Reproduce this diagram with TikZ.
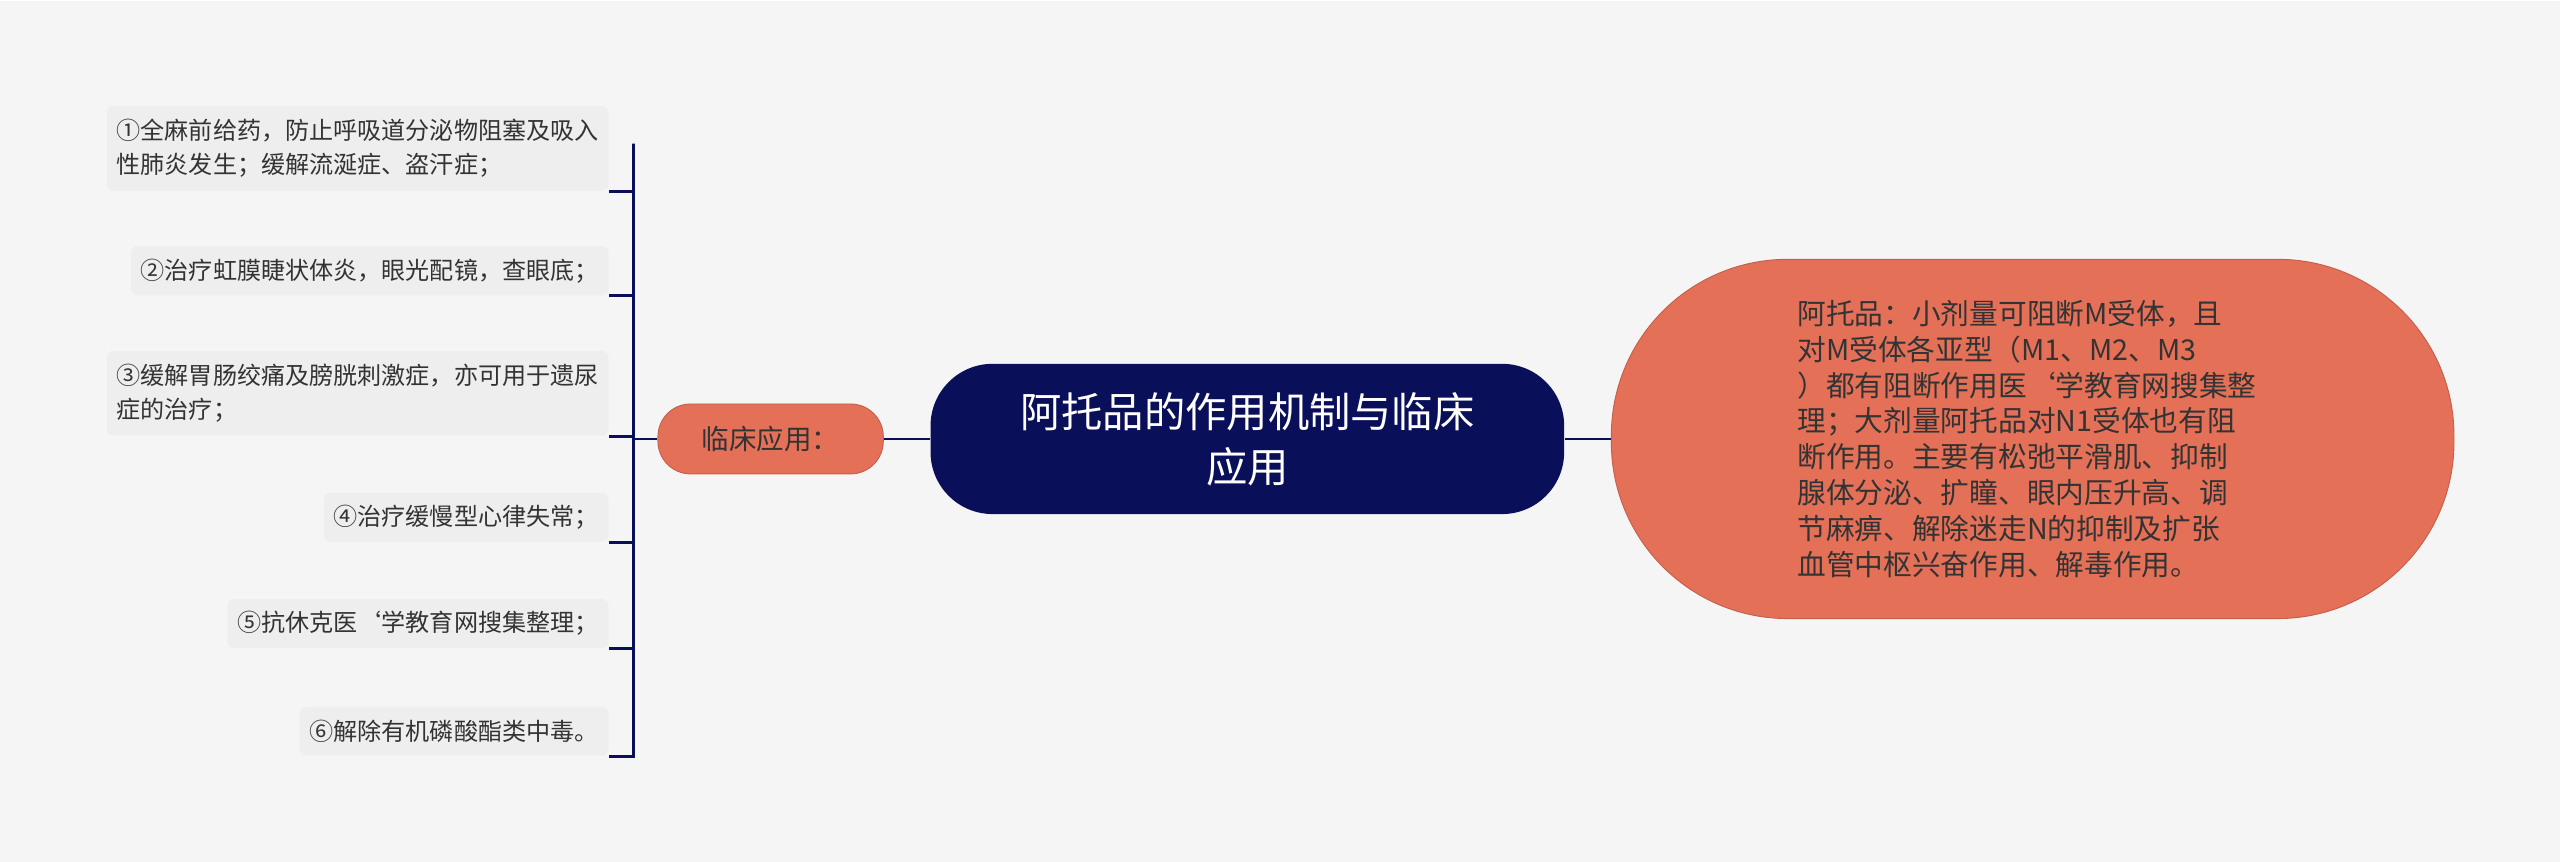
\documentclass[tikz,border=0pt]{standalone}
\usepackage{fontspec}
\setmainfont{Noto Sans CJK SC}
\usetikzlibrary{positioning}
\definecolor{navy}{HTML}{0A0F5A}
\definecolor{salmon}{HTML}{E57058}
\definecolor{leafbg}{HTML}{EEEEEE}
\definecolor{bg}{HTML}{F5F5F5}
\begin{document}
\begin{tikzpicture}[x=0.025cm,y=-0.025cm,
    rootbox/.style={rounded corners=0.95cm,fill=navy,text=white,font=\fontsize{18}{24}\selectfont,
      minimum width=9.7cm,minimum height=2.3cm,align=center},
    mainbox/.style={rounded corners=0.5cm,fill=salmon,draw=salmon!85!black,text=black!80,
      font=\fontsize{12}{15}\selectfont,minimum width=3.45cm,minimum height=1.07cm},
    notebox/.style={rounded corners=2.7cm,fill=salmon,draw=salmon!85!black,text=black!80,
      font=\fontsize{12.5}{15.6}\selectfont,minimum width=12.9cm,minimum height=5.5cm,
      align=left,text width=7.2cm},
    leafbox/.style={rounded corners=3pt,fill=leafbg,text=black!80,anchor=east,
      font=\fontsize{10.5}{14.5}\selectfont,align=left,inner sep=0.15cm},
    link/.style={draw=navy,line width=1.2pt}
  ]
  \fill[bg] (0,0) rectangle (1568,527);
  \node[rootbox] (root) at (764,268) {阿托品的作用机制与临床\\应用};
  \node[notebox] (note) at (1245,268) {阿托品：小剂量可阻断M受体，且\\对M受体各亚型（M1、M2、M3\\）都有阻断作用医`学教育网搜集整\\理；大剂量阿托品对N1受体也有阻\\断作用。主要有松弛平滑肌、抑制\\腺体分泌、扩瞳、眼内压升高、调\\节麻痹、解除迷走N的抑制及扩张\\血管中枢兴奋作用、解毒作用。};
  \node[mainbox] (use) at (472,268) {临床应用：};
  \node[leafbox,minimum height=1.3cm] (l1) at (373,90) {①全麻前给药，防止呼吸道分泌物阻塞及吸入\\性肺炎发生；缓解流涎症、盗汗症；};
  \node[leafbox,minimum height=0.75cm] (l2) at (373,165) {②治疗虹膜睫状体炎，眼光配镜，查眼底；};
  \node[leafbox,minimum height=1.3cm] (l3) at (373,240) {③缓解胃肠绞痛及膀胱刺激症，亦可用于遗尿\\症的治疗；};
  \node[leafbox,minimum height=0.75cm] (l4) at (373,316) {④治疗缓慢型心律失常；};
  \node[leafbox,minimum height=0.75cm] (l5) at (373,381) {⑤抗休克医`学教育网搜集整理；};
  \node[leafbox,minimum height=0.75cm] (l6) at (373,447) {⑥解除有机磷酸酯类中毒。};
  \coordinate (fork) at (388,268);
  \draw[link] (root.west) -- (use.east);
  \draw[link] (root.east) -- (note.west);
  \draw[link] (use.west) -- (fork);
  \foreach \n in {l1,l2,l3,l4,l5,l6}
    \draw[link] (fork) .. controls (388,268) and (388,{0}) .. (fork |- \n.south east)
      .. controls +(0,0) .. (\n.south east);
\end{tikzpicture}
\end{document}
